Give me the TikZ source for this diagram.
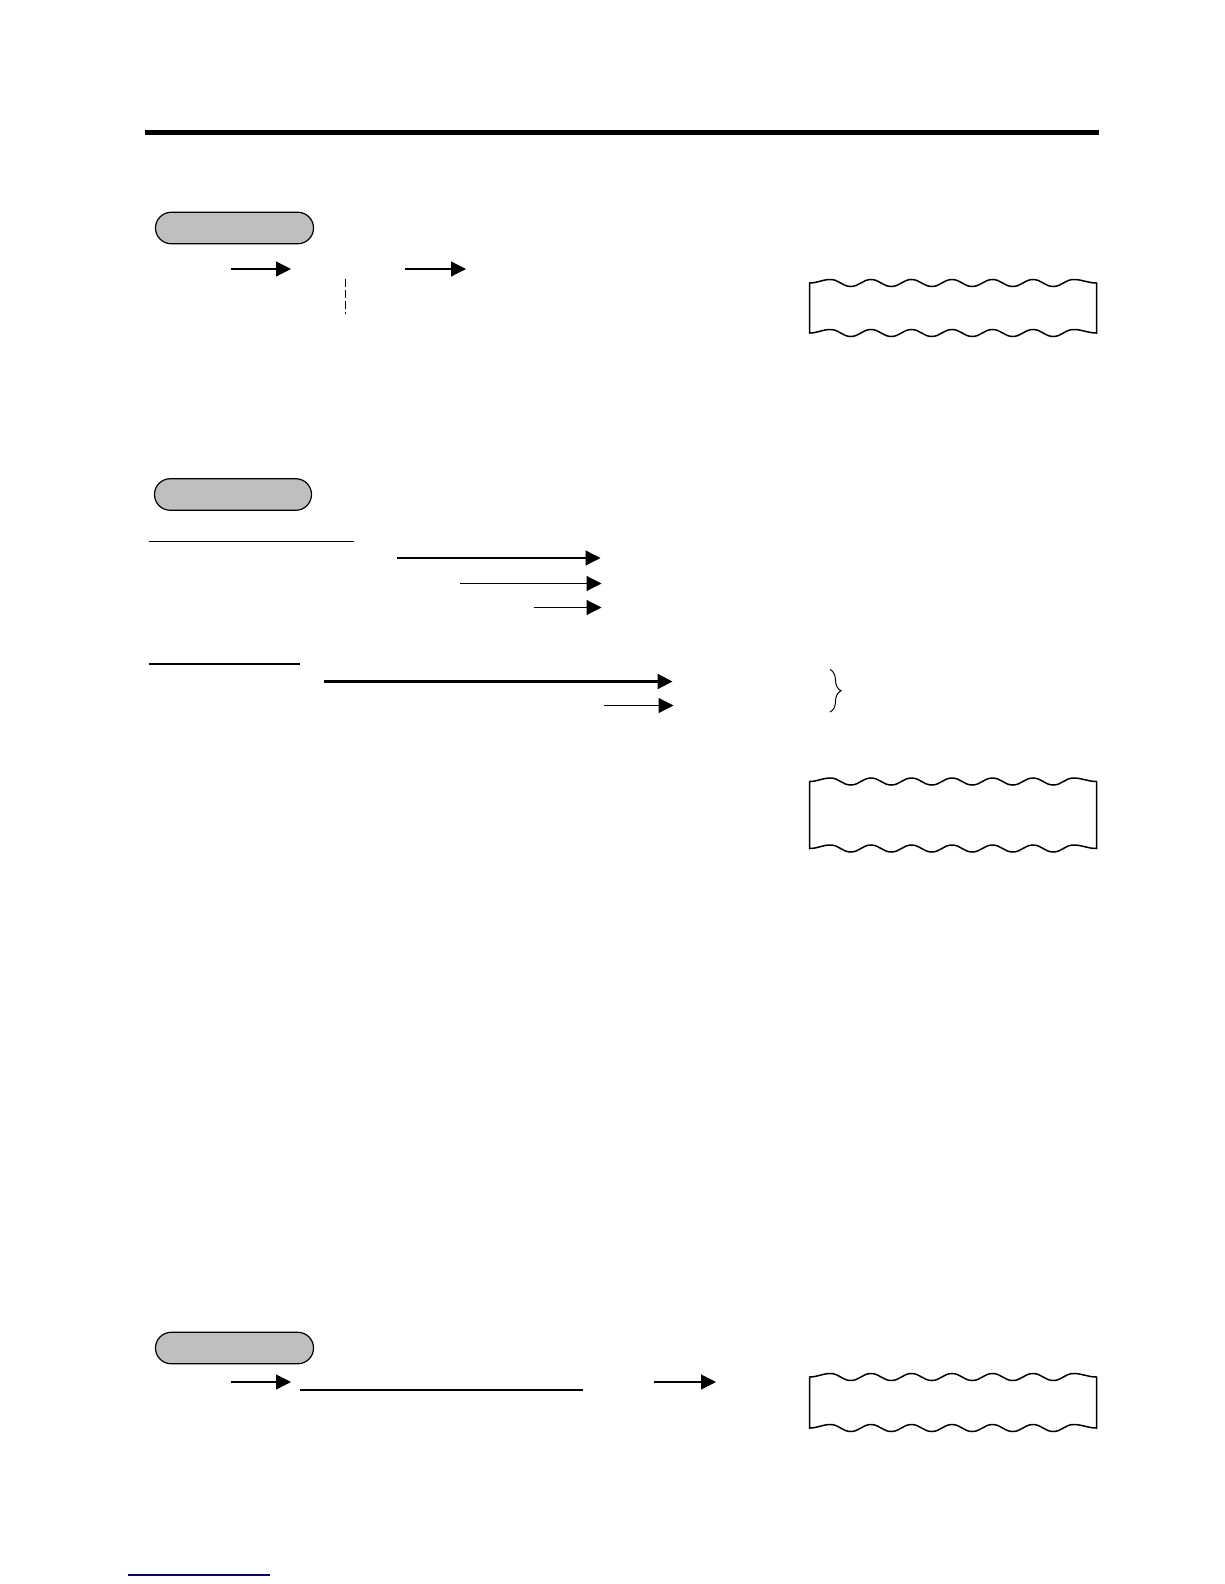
\documentclass[tikz,border=0pt]{standalone}
\usepackage{tikz}
\usetikzlibrary{arrows.meta,decorations.pathreplacing}

\tikzset{
  pill/.style={rectangle,rounded corners=15.7pt,draw,fill=black!25,line width=1.2pt,
    minimum width=158pt,minimum height=31.5pt,inner sep=0pt},
  thickline/.style={line width=2.2pt},
}

% punched tape box: left x, top y, bottom y (width 287)
\newcommand{\tapebox}[3]{%
  \draw [line width=1.5pt] (#1,#2) to[out=0,in=180] ++(21,-3.5)
    \foreach \k in {1,...,6} { to[out=0,in=180] ++(20.25,7) to[out=0,in=180] ++(20.25,-7) }
    to[out=0,in=180] ++(23,3.5) -- (#1+287,#3)
    to[out=180,in=0] ++(-23,-3.5)
    \foreach \k in {1,...,6} { to[out=180,in=0] ++(-20.25,7) to[out=180,in=0] ++(-20.25,-7) }
    to[out=180,in=0] ++(-21,3.5) -- cycle;}

\begin{document}
\begin{tikzpicture}[x=1pt,y=-1pt,line width=1.2pt,>={Triangle[length=15pt,width=15pt]}]
\useasboundingbox (0,0) rectangle (1224,1584);
\draw [line width=5pt] (145,132.5) -- (1099,132.5);

% first block
\node (pillA) at (234.5,228) [pill] {};
\coordinate (a1s) at (230.5,269);
\coordinate (a1e) at (291,269);
\coordinate (a2s) at (404.5,269);
\coordinate (a2e) at (466,269);
\draw [->] (a1s) -- (a1e);
\draw [->] (a2s) -- (a2e);
\coordinate (dashT) at (345.5,279);
\coordinate (dashB) at (345.5,314);
\draw [dash pattern=on 8pt off 3pt] (dashT) -- (dashB);
\tapebox{809.5}{283}{333}

% second block
\node (pillB) at (233,494.5) [pill,minimum width=157pt] {};
\coordinate (u1s) at (148.5,541.5);
\coordinate (u1e) at (354,541.5);
\draw (u1s) -- (u1e);
\coordinate (b1s) at (397,558);
\coordinate (b1e) at (600.5,558);
\coordinate (b2s) at (460,583.5);
\coordinate (b2e) at (601.5,583.5);
\coordinate (b3s) at (533.5,607.5);
\coordinate (b3e) at (601.5,607.5);
\draw [->] (b1s) -- (b1e);
\draw [->] (b2s) -- (b2e);
\draw [->] (b3s) -- (b3e);
\coordinate (u2s) at (148.5,664);
\coordinate (u2e) at (299.5,664);
\draw [thickline] (u2s) -- (u2e);
\coordinate (c1s) at (323.5,681.5);
\coordinate (c1e) at (672.5,681.5);
\coordinate (c2s) at (603.5,705.5);
\coordinate (c2e) at (673.5,705.5);
\draw [thickline,->] (c1s) -- (c1e);
\draw [->] (c2s) -- (c2e);
\coordinate (braceT) at (830,669.5);
\coordinate (braceB) at (830,712);
\draw [line width=1pt,decorate,decoration={brace,amplitude=11pt}] (braceT) -- (braceB);
\tapebox{809.5}{781.5}{848.5}

% third block
\node (pillC) at (234.5,1348) [pill] {};
\coordinate (d1s) at (230.5,1382);
\coordinate (d1e) at (291,1382);
\coordinate (u3s) at (299.5,1390);
\coordinate (u3e) at (582.5,1390);
\coordinate (d2s) at (654,1382);
\coordinate (d2e) at (716,1382);
\draw [->] (d1s) -- (d1e);
\draw [thickline] (u3s) -- (u3e);
\draw [->] (d2s) -- (d2e);
\tapebox{809.5}{1377}{1428}

\coordinate (linkS) at (127.5,1575);
\coordinate (linkE) at (270,1575);
\draw [line width=1.3pt,color={rgb,255:red,0;green,0;blue,128}] (linkS) -- (linkE);
\end{tikzpicture}
\end{document}
